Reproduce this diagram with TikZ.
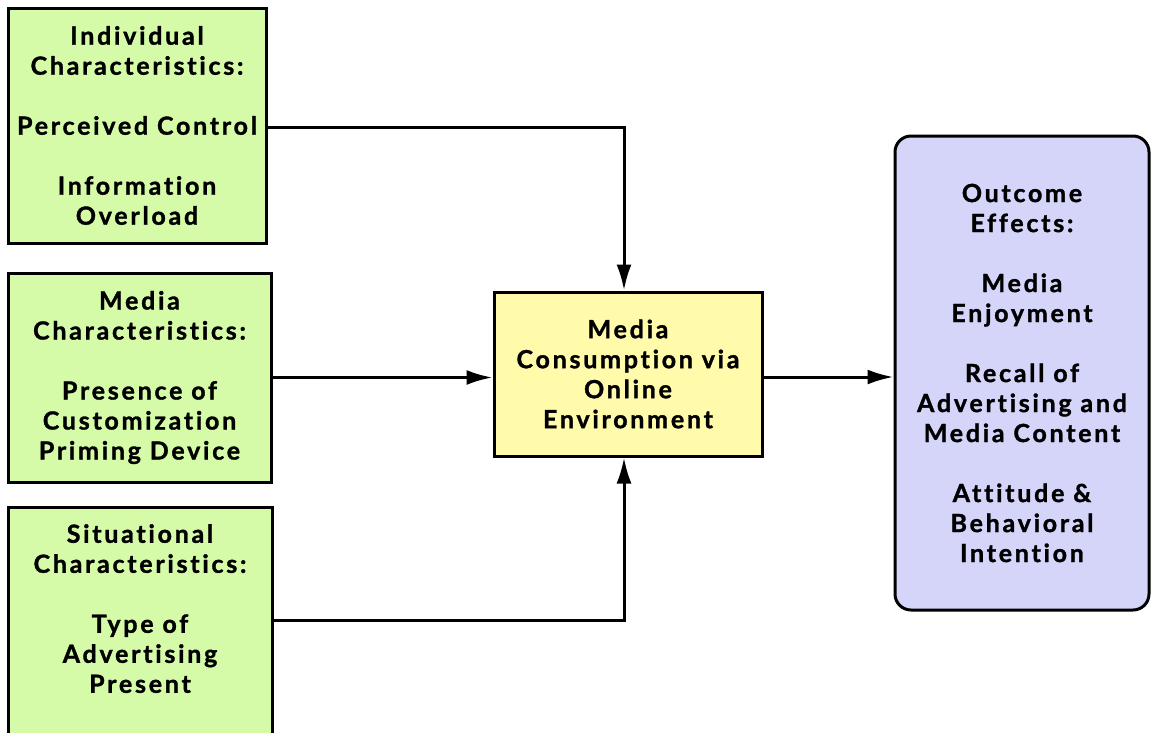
\documentclass[tikz,border=0pt]{standalone}
\usepackage{fontspec}
\setmainfont{Lato}[Ligatures={NoCommon,NoRare},LetterSpace=11,BoldFeatures={FakeBold=1.3}]
\usetikzlibrary{arrows.meta}
\definecolor{boxgreen}{RGB}{213,251,168}
\definecolor{boxyellow}{RGB}{255,251,171}
\definecolor{boxlav}{RGB}{213,213,250}
\begin{document}
\begin{tikzpicture}[x=1pt,y=-1pt,
  box/.style={draw=black, line width=3pt, align=center, inner sep=0pt,
    font=\fontsize{25}{30}\selectfont\bfseries},
  gbox/.style={box, fill=boxgreen},
  arr/.style={line width=3pt, -{Latex[length=26pt,width=15pt]}}]
\useasboundingbox (0,0) rectangle (1151,732);
\clip (0,0) rectangle (1151,732);
\node[gbox, minimum width=258pt, minimum height=235pt] (ind) at (137,125.5)
  {Individual\\Characteristics:\\[30pt]Perceived Control\\[30pt]Information\\Overload};
\node[gbox, minimum width=263pt, minimum height=209pt] (med) at (139.5,377.5)
  {Media\\Characteristics:\\[30pt]Presence of\\Customization\\Priming Device};
\node[gbox, minimum width=264pt, minimum height=253pt] (sit) at (140,633.5)
  {Situational\\Characteristics:\\[30pt]Type of\\Advertising\\Present\\[20pt]};
\node[box, fill=boxyellow, minimum width=268pt, minimum height=164pt] (mc) at (628,374)
  {Media\\Consumption via\\Online\\Environment};
\node[box, fill=boxlav, rounded corners=16pt, minimum width=254pt, minimum height=474pt] (out) at (1022,373)
  {Outcome\\Effects:\\[30pt]Media\\Enjoyment\\[30pt]Recall of\\Advertising and\\Media Content\\[30pt]Attitude \&\\Behavioral\\Intention};
\draw[arr] ([yshift=-1.5pt]ind.east) -| ([xshift=-4pt]mc.north);
\draw[arr] (med.east) -- (med.east -| mc.west);
\draw[arr] ([yshift=-115pt]sit.north east) -| ([xshift=-4pt]mc.south);
\draw[arr] ([yshift=-3pt]mc.east) -- ([yshift=-3pt]mc.east -| out.west);
\end{tikzpicture}
\end{document}
